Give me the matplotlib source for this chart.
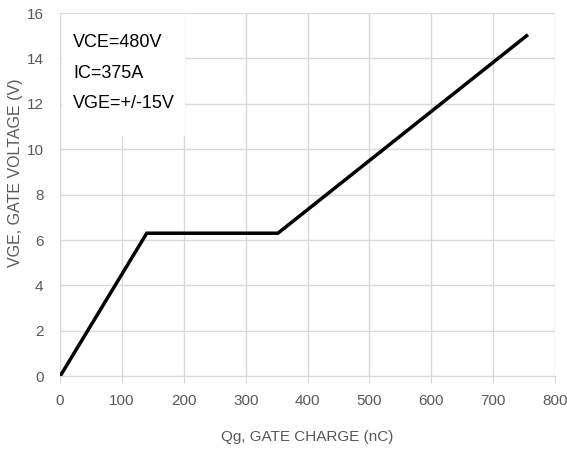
import matplotlib
matplotlib.use("Agg")
import matplotlib.pyplot as plt
from matplotlib.patches import Rectangle

qg = [0, 140, 352, 754]
vge = [0, 6.3, 6.3, 15]
xticks = [0, 100, 200, 300, 400, 500, 600, 700, 800]
yticks = [0, 2, 4, 6, 8, 10, 12, 14, 16]
notes = ["VCE=480V", "IC=375A", "VGE=+/-15V"]
note_y = [14.7, 13.35, 12.0]

fam = ["Liberation Sans", "DejaVu Sans"]
grey = "#595959"
gridc = "#d9d9d9"

fig = plt.figure(figsize=(5.67, 4.5), dpi=100)
ax = fig.add_axes([0.106, 0.164, 0.873, 0.807])
ax.plot(qg, vge, color="black", lw=2.5, solid_joinstyle="miter", zorder=3)
ax.set_xlim(0, 800)
ax.set_ylim(0, 16)
ax.set_xticks(xticks)
ax.set_yticks(yticks)
ax.grid(True, color=gridc, lw=1)
ax.set_axisbelow(True)
for s in ["top", "right", "left"]:
    ax.spines[s].set_visible(False)
ax.spines["bottom"].set_color(gridc)
ax.tick_params(axis="x", colors=gridc, length=5, labelcolor=grey, pad=8)
ax.tick_params(axis="y", length=0, labelcolor=grey, pad=12)
for lab in ax.get_xticklabels() + ax.get_yticklabels():
    lab.set_family(fam)
    lab.set_fontsize(11)
ax.set_xlabel("Qg, GATE CHARGE (nC)", family=fam, fontsize=11, color=grey, labelpad=16)
ax.set_ylabel("VGE, GATE VOLTAGE (V)", family=fam, fontsize=11.5, color=grey)
ax.yaxis.set_label_coords(-0.074, 0.56)

# white box behind the conditions text
ax.add_patch(Rectangle((0.003, 0.661), 0.25, 0.336, transform=ax.transAxes,
                       facecolor="white", edgecolor="none", zorder=1))
for t, y in zip(notes, note_y):
    ax.text(21, y, t, va="center", ha="left", family=fam, fontsize=13, color="black", zorder=2)
fig.savefig("out.png", dpi=100)
